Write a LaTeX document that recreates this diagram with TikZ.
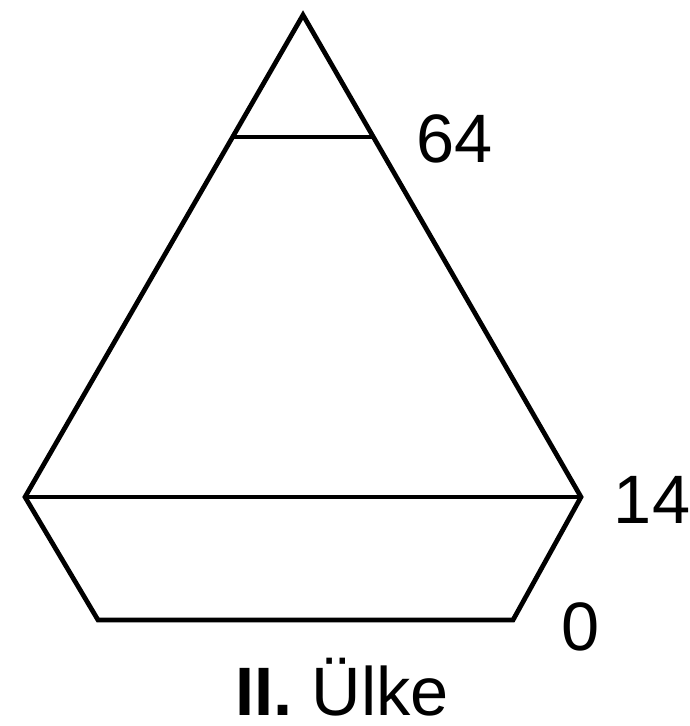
\documentclass[tikz,border=0pt]{standalone}
\usepackage{fontspec}
\setmainfont{Liberation Sans}
\usetikzlibrary{calc}

\begin{document}
\begin{tikzpicture}[
  x=0.02cm,y=-0.02cm,
  line width=2.7pt,
  lab/.style={font=\fontsize{39}{46}\selectfont,inner sep=0pt,anchor=base}
]
\useasboundingbox (0,0) rectangle (689,726);

% outline
\coordinate (apex) at (303,15);
\coordinate (bl) at (25,497);
\coordinate (br) at (581,497);
\coordinate (fl) at (98,620);
\coordinate (fr) at (513,620);
\draw (bl) -- (apex) -- (br) -- (fr) -- (fl) -- cycle;
\draw (bl) -- (br);
\draw ($(apex)!0.253!(bl)$) -- ($(apex)!0.253!(br)$);

% labels
\node[lab] (l64) at (455,163) {64};
\node[lab] (l14) at (652,523) {14};
\node[lab] (l0)  at (581,650) {0};
\node[lab] (ttl) at (342,715) {\textbf{II.} Ülke};
\end{tikzpicture}
\end{document}
